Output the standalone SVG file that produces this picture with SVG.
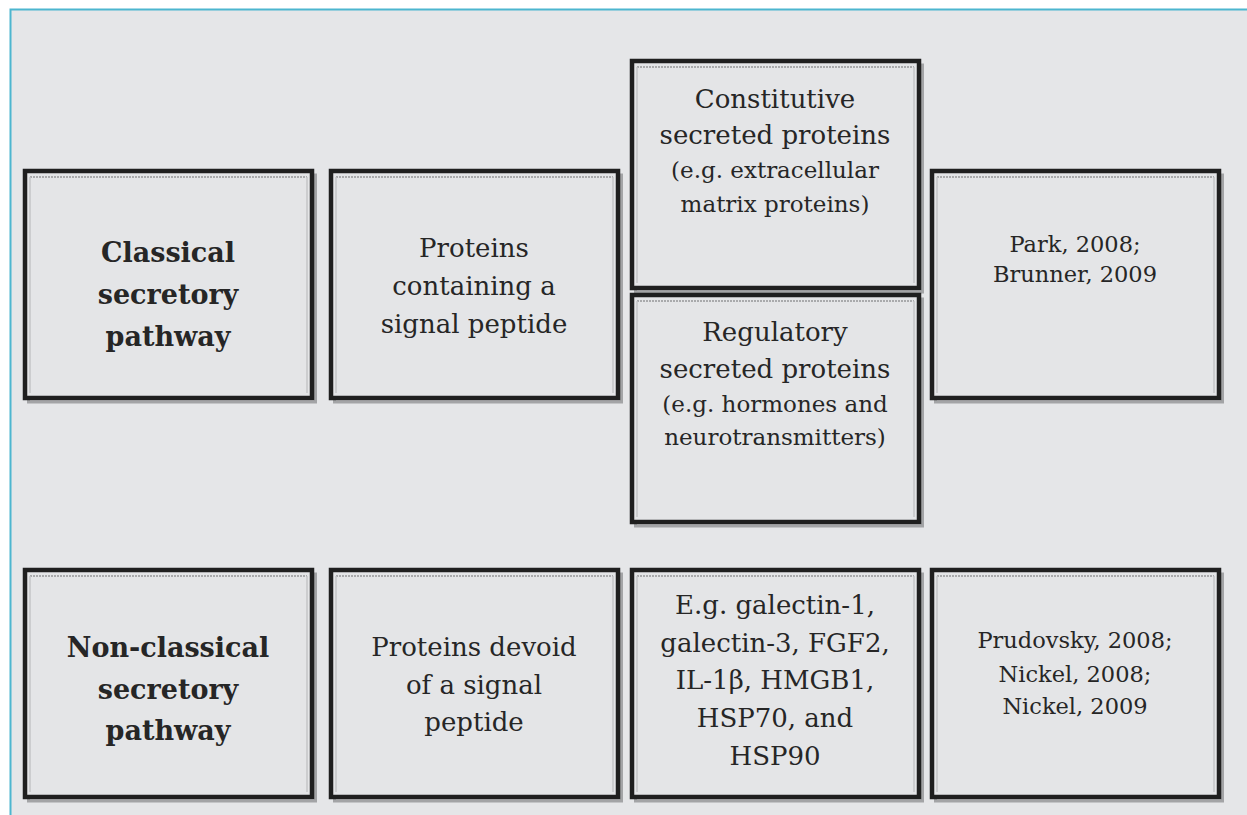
<svg xmlns="http://www.w3.org/2000/svg" width="1247" height="815" viewBox="0 0 1247 815">
<style>
.sh{fill:none;stroke:#a3a4a6;stroke-width:3}
.bx{fill:#e4e5e7;stroke:#1f1f1f;stroke-width:4.5}
.in{fill:none;stroke:#a9aaac;stroke-width:2;stroke-dasharray:2 1}
.in2{fill:none;stroke:#c4c5c7;stroke-width:1.5}
text{font-family:"DejaVu Serif","Liberation Serif",serif;fill:#262626;text-anchor:middle}
.t{font-size:26px}
.s{font-size:23px}
.r{font-size:22.5px}
.b{font-size:27px;font-weight:bold}
</style>
<defs>
<g id="frame">
<rect class="sh" x="3.5" y="4" width="287" height="227"/>
<rect class="bx" x="0" y="0" width="287" height="227"/>
<path class="in" d="M5 6 H282"/>
<path class="in2" d="M5 6 V222 M282 6 V222"/>
</g>
</defs>
<rect x="0" y="0" width="1247" height="815" fill="#ffffff"/>
<rect x="10" y="9" width="1237" height="806" fill="#e5e6e8"/>
<path d="M10.5 815 V9.5 H1247" fill="none" stroke="#4db6cf" stroke-width="2"/>
<g id="connectors"/>
<g id="classical">
<use href="#frame" x="25" y="171"/>
<text class="b" x="168" y="262">Classical</text>
<text class="b" x="168" y="304">secretory</text>
<text class="b" x="168" y="346">pathway</text>
</g>
<g id="signal-peptide">
<use href="#frame" x="331" y="171"/>
<text class="t" x="474" y="257">Proteins</text>
<text class="t" x="474" y="295">containing a</text>
<text class="t" x="474" y="333">signal peptide</text>
</g>
<g id="constitutive">
<use href="#frame" x="632" y="61"/>
<text class="t" x="775" y="108">Constitutive</text>
<text class="t" x="775" y="144">secreted proteins</text>
<text class="s" x="775" y="178">(e.g. extracellular</text>
<text class="s" x="775" y="212">matrix proteins)</text>
</g>
<g id="regulatory">
<use href="#frame" x="632" y="295"/>
<text class="t" x="775" y="341">Regulatory</text>
<text class="t" x="775" y="378">secreted proteins</text>
<text class="s" x="775" y="412">(e.g. hormones and</text>
<text class="s" x="775" y="445">neurotransmitters)</text>
</g>
<g id="refs-classical">
<use href="#frame" x="932" y="171"/>
<text class="r" x="1075" y="252">Park, 2008;</text>
<text class="r" x="1075" y="282">Brunner, 2009</text>
</g>
<g id="nonclassical">
<use href="#frame" x="25" y="570"/>
<text class="b" x="168" y="657">Non-classical</text>
<text class="b" x="168" y="699">secretory</text>
<text class="b" x="168" y="740">pathway</text>
</g>
<g id="devoid">
<use href="#frame" x="331" y="570"/>
<text class="t" x="474" y="656">Proteins devoid</text>
<text class="t" x="474" y="694">of a signal</text>
<text class="t" x="474" y="731">peptide</text>
</g>
<g id="examples">
<use href="#frame" x="632" y="570"/>
<text class="t" x="775" y="614">E.g. galectin-1,</text>
<text class="t" x="775" y="652">galectin-3, FGF2,</text>
<text class="t" x="775" y="689">IL-1β, HMGB1,</text>
<text class="t" x="775" y="727">HSP70, and</text>
<text class="t" x="775" y="765">HSP90</text>
</g>
<g id="refs-nonclassical">
<use href="#frame" x="932" y="570"/>
<text class="r" x="1075" y="648">Prudovsky, 2008;</text>
<text class="r" x="1075" y="682">Nickel, 2008;</text>
<text class="r" x="1075" y="714">Nickel, 2009</text>
</g>
</svg>
